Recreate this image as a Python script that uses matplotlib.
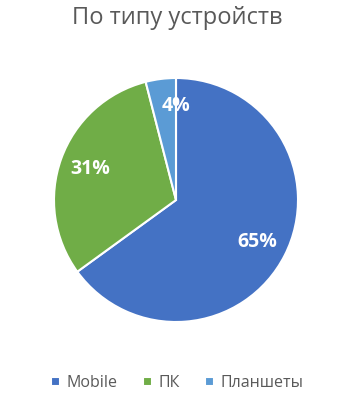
import matplotlib.pyplot as plt

labels = ['Mobile', 'ПК', 'Планшеты']
shares = [65, 31, 4]
colors = ['#4472C4', '#70AD47', '#5B9BD5']

plt.rcParams['font.family'] = ['Open Sans', 'DejaVu Sans']

fig = plt.figure(figsize=(3.55, 3.99), dpi=100)
fig.patch.set_facecolor('white')

fig.text(0.5, 0.955, 'По типу устройств', ha='center', va='center',
         fontsize=17, color='#595959')

ax = fig.add_axes([54 / 355, 77 / 399, 244 / 355, 244 / 399])
wedges, texts, autotexts = ax.pie(
    shares, colors=colors, startangle=90, counterclock=False,
    autopct='%d%%', pctdistance=0.75,
    wedgeprops=dict(edgecolor='white', linewidth=1.5),
    textprops=dict(color='white', fontsize=14, fontweight='bold'))
ax.set_xlim(-1, 1)
ax.set_ylim(-1, 1)
ax.set_aspect('equal')

# small slice label sits right at the top edge in the original
x, y = autotexts[2].get_position()
autotexts[2].set_position((0.0, y + 0.03))

fig.legend(wedges, labels, loc='center', bbox_to_anchor=(0.5, 0.04),
           ncol=3, frameon=False, fontsize=11.5, handlelength=0.55,
           handleheight=0.55, handletextpad=0.4, columnspacing=1.6,
           labelcolor='#595959')

fig.savefig('out.png', dpi=100)
